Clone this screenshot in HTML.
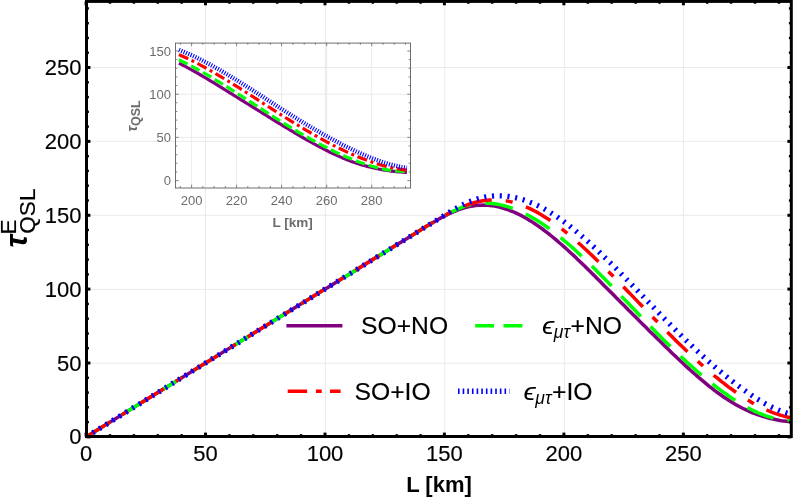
<!DOCTYPE html>
<html><head><meta charset="utf-8"><title>plot</title>
<style>
html,body{margin:0;padding:0;background:#fff;}
body{width:793px;height:498px;overflow:hidden;}
svg{display:block;will-change:transform;}
text{font-family:"Liberation Sans",sans-serif;}
</style></head><body>
<svg width="793" height="498" viewBox="0 0 793 498">
<rect x="0" y="0" width="793" height="498" fill="#ffffff"/>
<defs><clipPath id="cp"><rect x="86.5" y="1.4" width="704.8" height="435.1"/></clipPath>
<clipPath id="ci"><rect x="175.5" y="42.9" width="235" height="145"/></clipPath></defs>

<g stroke="#eaeaea" stroke-width="1" fill="none">
<line x1="205.5" y1="2" x2="205.5" y2="436"/>
<line x1="325.4" y1="2" x2="325.4" y2="436"/>
<line x1="444.8" y1="2" x2="444.8" y2="436"/>
<line x1="564.3" y1="2" x2="564.3" y2="436"/>
<line x1="683.4" y1="2" x2="683.4" y2="436"/>
<line x1="87" y1="67.5" x2="791" y2="67.5"/>
<line x1="87" y1="141.4" x2="791" y2="141.4"/>
<line x1="87" y1="215.3" x2="791" y2="215.3"/>
<line x1="87" y1="289.4" x2="791" y2="289.4"/>
<line x1="87" y1="363.2" x2="791" y2="363.2"/>
</g>
<g clip-path="url(#cp)" fill="none" stroke-linecap="butt" stroke-linejoin="round">
<path d="M86.1 436.9 L325.0 289.1 L327.4 287.7 L329.8 286.2 L332.2 284.7 L334.6 283.2 L336.9 281.8 L339.3 280.3 L341.7 278.8 L344.1 277.3 L346.5 275.9 L348.9 274.4 L351.3 272.9 L353.7 271.4 L356.1 269.9 L358.4 268.5 L360.8 267.0 L363.2 265.5 L365.6 264.0 L368.0 262.6 L370.4 261.1 L372.8 259.6 L375.2 258.1 L377.6 256.6 L379.9 255.2 L382.3 253.7 L384.7 252.2 L387.1 250.7 L389.5 249.3 L391.9 247.8 L394.3 246.3 L396.7 244.8 L399.1 243.3 L401.4 241.9 L403.8 240.4 L406.2 238.9 L408.6 237.4 L411.0 236.0 L413.4 234.5 L415.8 233.0 L418.2 231.5 L420.6 230.0 L422.9 228.6 L425.3 227.1 L427.7 225.6 L430.1 224.2 L432.5 222.8 L434.9 221.4 L437.3 220.0 L439.7 218.6 L442.1 217.3 L444.4 216.1 L446.8 214.9 L449.2 213.7 L451.6 212.6 L454.0 211.6 L456.4 210.6 L458.8 209.7 L461.2 208.8 L463.6 208.1 L466.0 207.4 L468.3 206.8 L470.7 206.3 L473.1 205.9 L475.5 205.6 L477.9 205.3 L480.3 205.2 L482.7 205.1 L485.1 205.2 L487.5 205.3 L489.8 205.5 L492.2 205.8 L494.6 206.1 L497.0 206.6 L499.4 207.1 L501.8 207.8 L504.2 208.5 L506.6 209.2 L509.0 210.1 L511.3 211.0 L513.7 212.0 L516.1 213.1 L518.5 214.2 L520.9 215.4 L523.3 216.7 L525.7 218.1 L528.1 219.5 L530.5 220.9 L532.8 222.4 L535.2 224.0 L537.6 225.6 L540.0 227.3 L542.4 229.0 L544.8 230.8 L547.2 232.7 L549.6 234.5 L552.0 236.5 L554.3 238.4 L556.7 240.4 L559.1 242.5 L561.5 244.5 L563.9 246.6 L566.3 248.8 L568.7 251.0 L571.1 253.2 L573.5 255.4 L575.8 257.6 L578.2 259.9 L580.6 262.2 L583.0 264.5 L585.4 266.8 L587.8 269.2 L590.2 271.5 L592.6 273.9 L595.0 276.3 L597.3 278.7 L599.7 281.1 L602.1 283.5 L604.5 285.9 L606.9 288.3 L609.3 290.7 L611.7 293.1 L614.1 295.5 L616.5 297.9 L618.8 300.3 L621.2 302.7 L623.6 305.1 L626.0 307.5 L628.4 309.9 L630.8 312.3 L633.2 314.7 L635.6 317.1 L638.0 319.5 L640.3 321.9 L642.7 324.3 L645.1 326.6 L647.5 329.0 L649.9 331.4 L652.3 333.7 L654.7 336.1 L657.1 338.5 L659.5 340.8 L661.8 343.1 L664.2 345.5 L666.6 347.8 L669.0 350.1 L671.4 352.4 L673.8 354.7 L676.2 356.9 L678.6 359.2 L681.0 361.5 L683.4 363.7 L685.7 365.9 L688.1 368.1 L690.5 370.3 L692.9 372.4 L695.3 374.5 L697.7 376.6 L700.1 378.7 L702.5 380.7 L704.9 382.7 L707.2 384.6 L709.6 386.6 L712.0 388.4 L714.4 390.3 L716.8 392.1 L719.2 393.8 L721.6 395.5 L724.0 397.2 L726.4 398.8 L728.7 400.3 L731.1 401.8 L733.5 403.3 L735.9 404.7 L738.3 406.0 L740.7 407.3 L743.1 408.5 L745.5 409.6 L747.9 410.7 L750.2 411.8 L752.6 412.8 L755.0 413.7 L757.4 414.6 L759.8 415.4 L762.2 416.2 L764.6 416.9 L767.0 417.6 L769.4 418.2 L771.7 418.8 L774.1 419.3 L776.5 419.8 L778.9 420.3 L781.3 420.7 L783.7 421.0 L786.1 421.3 L788.5 421.6 L790.9 421.9" stroke="#800080" stroke-width="3.5"/>
<path d="M86.1 436.9 L325.0 289.1 L327.4 287.7 L329.8 286.2 L332.2 284.7 L334.6 283.2 L336.9 281.8 L339.3 280.3 L341.7 278.8 L344.1 277.3 L346.5 275.9 L348.9 274.4 L351.3 272.9 L353.7 271.4 L356.1 269.9 L358.4 268.5 L360.8 267.0 L363.2 265.5 L365.6 264.0 L368.0 262.6 L370.4 261.1 L372.8 259.6 L375.2 258.1 L377.6 256.6 L379.9 255.2 L382.3 253.7 L384.7 252.2 L387.1 250.7 L389.5 249.3 L391.9 247.8 L394.3 246.3 L396.7 244.8 L399.1 243.3 L401.4 241.9 L403.8 240.4 L406.2 238.9 L408.6 237.4 L411.0 236.0 L413.4 234.5 L415.8 233.0 L418.2 231.5 L420.6 230.0 L422.9 228.6 L425.3 227.1 L427.7 225.6 L430.1 224.2 L432.5 222.7 L434.9 221.3 L437.3 219.9 L439.7 218.5 L442.1 217.1 L444.4 215.7 L446.8 214.4 L449.2 213.2 L451.6 211.9 L454.0 210.8 L456.4 209.7 L458.8 208.6 L461.2 207.6 L463.6 206.7 L466.0 205.9 L468.3 205.2 L470.7 204.6 L473.1 204.1 L475.5 203.7 L477.9 203.4 L480.3 203.2 L482.7 203.1 L485.1 203.1 L487.5 203.2 L489.8 203.3 L492.2 203.5 L494.6 203.8 L497.0 204.2 L499.4 204.6 L501.8 205.1 L504.2 205.7 L506.6 206.4 L509.0 207.1 L511.3 207.9 L513.7 208.8 L516.1 209.7 L518.5 210.7 L520.9 211.7 L523.3 212.8 L525.7 214.0 L528.1 215.2 L530.5 216.5 L532.8 217.9 L535.2 219.3 L537.6 220.8 L540.0 222.3 L542.4 223.9 L544.8 225.5 L547.2 227.2 L549.6 228.9 L552.0 230.7 L554.3 232.5 L556.7 234.4 L559.1 236.3 L561.5 238.3 L563.9 240.3 L566.3 242.3 L568.7 244.4 L571.1 246.5 L573.5 248.6 L575.8 250.8 L578.2 253.0 L580.6 255.3 L583.0 257.5 L585.4 259.8 L587.8 262.1 L590.2 264.4 L592.6 266.8 L595.0 269.2 L597.3 271.6 L599.7 274.0 L602.1 276.4 L604.5 278.8 L606.9 281.2 L609.3 283.7 L611.7 286.2 L614.1 288.6 L616.5 291.1 L618.8 293.6 L621.2 296.1 L623.6 298.6 L626.0 301.0 L628.4 303.5 L630.8 306.0 L633.2 308.5 L635.6 311.0 L638.0 313.5 L640.3 316.0 L642.7 318.5 L645.1 321.0 L647.5 323.4 L649.9 325.9 L652.3 328.3 L654.7 330.8 L657.1 333.2 L659.5 335.6 L661.8 338.0 L664.2 340.4 L666.6 342.8 L669.0 345.1 L671.4 347.5 L673.8 349.8 L676.2 352.1 L678.6 354.4 L681.0 356.6 L683.4 358.8 L685.7 361.0 L688.1 363.2 L690.5 365.4 L692.9 367.5 L695.3 369.6 L697.7 371.7 L700.1 373.8 L702.5 375.8 L704.9 377.8 L707.2 379.8 L709.6 381.7 L712.0 383.6 L714.4 385.5 L716.8 387.3 L719.2 389.1 L721.6 390.9 L724.0 392.6 L726.4 394.3 L728.7 396.0 L731.1 397.6 L733.5 399.2 L735.9 400.7 L738.3 402.2 L740.7 403.7 L743.1 405.1 L745.5 406.4 L747.9 407.7 L750.2 409.0 L752.6 410.2 L755.0 411.4 L757.4 412.5 L759.8 413.5 L762.2 414.4 L764.6 415.3 L767.0 416.2 L769.4 416.9 L771.7 417.6 L774.1 418.2 L776.5 418.7 L778.9 419.2 L781.3 419.6 L783.7 419.8 L786.1 420.0 L788.5 420.1 L790.9 420.1" stroke="#00ff00" stroke-width="3.5" stroke-dasharray="28.15 14.07"/>
<path d="M86.1 436.9 L325.0 289.1 L327.4 287.7 L329.8 286.2 L332.2 284.7 L334.6 283.2 L336.9 281.8 L339.3 280.3 L341.7 278.8 L344.1 277.3 L346.5 275.9 L348.9 274.4 L351.3 272.9 L353.7 271.4 L356.1 269.9 L358.4 268.5 L360.8 267.0 L363.2 265.5 L365.6 264.0 L368.0 262.6 L370.4 261.1 L372.8 259.6 L375.2 258.1 L377.6 256.6 L379.9 255.2 L382.3 253.7 L384.7 252.2 L387.1 250.7 L389.5 249.3 L391.9 247.8 L394.3 246.3 L396.7 244.8 L399.1 243.3 L401.4 241.9 L403.8 240.4 L406.2 238.9 L408.6 237.4 L411.0 236.0 L413.4 234.5 L415.8 233.0 L418.2 231.5 L420.6 230.0 L422.9 228.6 L425.3 227.1 L427.7 225.6 L430.1 224.2 L432.5 222.7 L434.9 221.3 L437.3 219.9 L439.7 218.5 L442.1 217.1 L444.4 215.8 L446.8 214.4 L449.2 213.1 L451.6 211.9 L454.0 210.7 L456.4 209.5 L458.8 208.4 L461.2 207.4 L463.6 206.3 L466.0 205.4 L468.3 204.5 L470.7 203.7 L473.1 203.0 L475.5 202.3 L477.9 201.8 L480.3 201.3 L482.7 200.8 L485.1 200.5 L487.5 200.2 L489.8 200.0 L492.2 199.9 L494.6 199.8 L497.0 199.9 L499.4 200.0 L501.8 200.3 L504.2 200.6 L506.6 200.9 L509.0 201.4 L511.3 201.9 L513.7 202.6 L516.1 203.3 L518.5 204.0 L520.9 204.9 L523.3 205.8 L525.7 206.7 L528.1 207.8 L530.5 208.9 L532.8 210.1 L535.2 211.3 L537.6 212.6 L540.0 214.0 L542.4 215.4 L544.8 216.9 L547.2 218.4 L549.6 220.0 L552.0 221.6 L554.3 223.3 L556.7 225.1 L559.1 226.9 L561.5 228.7 L563.9 230.6 L566.3 232.5 L568.7 234.5 L571.1 236.5 L573.5 238.5 L575.8 240.6 L578.2 242.7 L580.6 244.8 L583.0 247.0 L585.4 249.2 L587.8 251.4 L590.2 253.7 L592.6 255.9 L595.0 258.2 L597.3 260.6 L599.7 262.9 L602.1 265.2 L604.5 267.6 L606.9 270.0 L609.3 272.4 L611.7 274.8 L614.1 277.2 L616.5 279.7 L618.8 282.1 L621.2 284.6 L623.6 287.0 L626.0 289.5 L628.4 291.9 L630.8 294.4 L633.2 296.9 L635.6 299.4 L638.0 301.9 L640.3 304.3 L642.7 306.8 L645.1 309.3 L647.5 311.8 L649.9 314.2 L652.3 316.7 L654.7 319.2 L657.1 321.6 L659.5 324.1 L661.8 326.5 L664.2 328.9 L666.6 331.3 L669.0 333.7 L671.4 336.1 L673.8 338.5 L676.2 340.9 L678.6 343.2 L681.0 345.5 L683.4 347.8 L685.7 350.1 L688.1 352.4 L690.5 354.6 L692.9 356.9 L695.3 359.1 L697.7 361.2 L700.1 363.4 L702.5 365.5 L704.9 367.6 L707.2 369.7 L709.6 371.8 L712.0 373.8 L714.4 375.8 L716.8 377.7 L719.2 379.7 L721.6 381.6 L724.0 383.4 L726.4 385.3 L728.7 387.1 L731.1 388.8 L733.5 390.5 L735.9 392.2 L738.3 393.9 L740.7 395.5 L743.1 397.1 L745.5 398.6 L747.9 400.1 L750.2 401.5 L752.6 402.9 L755.0 404.3 L757.4 405.6 L759.8 406.8 L762.2 408.0 L764.6 409.1 L767.0 410.2 L769.4 411.2 L771.7 412.2 L774.1 413.1 L776.5 413.9 L778.9 414.7 L781.3 415.4 L783.7 416.1 L786.1 416.7 L788.5 417.2 L790.9 417.6" stroke="#ff0000" stroke-width="3.5" stroke-dasharray="28.15 14.07 7.04 14.07"/>
<path d="M86.1 436.9 L325.0 289.1 L327.4 287.7 L329.8 286.2 L332.2 284.7 L334.6 283.2 L336.9 281.8 L339.3 280.3 L341.7 278.8 L344.1 277.3 L346.5 275.9 L348.9 274.4 L351.3 272.9 L353.7 271.4 L356.1 269.9 L358.4 268.5 L360.8 267.0 L363.2 265.5 L365.6 264.0 L368.0 262.6 L370.4 261.1 L372.8 259.6 L375.2 258.1 L377.6 256.6 L379.9 255.2 L382.3 253.7 L384.7 252.2 L387.1 250.7 L389.5 249.3 L391.9 247.8 L394.3 246.3 L396.7 244.8 L399.1 243.3 L401.4 241.9 L403.8 240.4 L406.2 238.9 L408.6 237.4 L411.0 236.0 L413.4 234.5 L415.8 233.0 L418.2 231.5 L420.6 230.0 L422.9 228.6 L425.3 227.1 L427.7 225.7 L430.1 224.2 L432.5 222.7 L434.9 221.2 L437.3 219.8 L439.7 218.3 L442.1 216.8 L444.4 215.4 L446.8 213.9 L449.2 212.4 L451.6 211.0 L454.0 209.6 L456.4 208.2 L458.8 206.9 L461.2 205.6 L463.6 204.4 L466.0 203.2 L468.3 202.2 L470.7 201.2 L473.1 200.3 L475.5 199.5 L477.9 198.7 L480.3 198.1 L482.7 197.5 L485.1 197.0 L487.5 196.6 L489.8 196.3 L492.2 196.1 L494.6 195.9 L497.0 195.8 L499.4 195.8 L501.8 195.9 L504.2 196.0 L506.6 196.2 L509.0 196.5 L511.3 196.9 L513.7 197.3 L516.1 197.8 L518.5 198.4 L520.9 199.1 L523.3 199.8 L525.7 200.6 L528.1 201.4 L530.5 202.4 L532.8 203.3 L535.2 204.4 L537.6 205.5 L540.0 206.7 L542.4 207.9 L544.8 209.2 L547.2 210.6 L549.6 212.0 L552.0 213.5 L554.3 215.0 L556.7 216.6 L559.1 218.3 L561.5 220.0 L563.9 221.7 L566.3 223.5 L568.7 225.3 L571.1 227.2 L573.5 229.1 L575.8 231.1 L578.2 233.1 L580.6 235.1 L583.0 237.2 L585.4 239.3 L587.8 241.4 L590.2 243.6 L592.6 245.8 L595.0 248.0 L597.3 250.3 L599.7 252.5 L602.1 254.8 L604.5 257.2 L606.9 259.5 L609.3 261.9 L611.7 264.2 L614.1 266.6 L616.5 269.0 L618.8 271.4 L621.2 273.9 L623.6 276.3 L626.0 278.8 L628.4 281.2 L630.8 283.7 L633.2 286.2 L635.6 288.7 L638.0 291.2 L640.3 293.7 L642.7 296.1 L645.1 298.6 L647.5 301.1 L649.9 303.6 L652.3 306.1 L654.7 308.6 L657.1 311.1 L659.5 313.6 L661.8 316.0 L664.2 318.5 L666.6 320.9 L669.0 323.4 L671.4 325.8 L673.8 328.2 L676.2 330.6 L678.6 333.0 L681.0 335.3 L683.4 337.7 L685.7 340.0 L688.1 342.3 L690.5 344.6 L692.9 346.9 L695.3 349.2 L697.7 351.4 L700.1 353.6 L702.5 355.8 L704.9 358.0 L707.2 360.2 L709.6 362.3 L712.0 364.4 L714.4 366.5 L716.8 368.6 L719.2 370.6 L721.6 372.6 L724.0 374.6 L726.4 376.5 L728.7 378.5 L731.1 380.4 L733.5 382.2 L735.9 384.1 L738.3 385.9 L740.7 387.7 L743.1 389.4 L745.5 391.1 L747.9 392.8 L750.2 394.4 L752.6 396.0 L755.0 397.6 L757.4 399.1 L759.8 400.5 L762.2 401.9 L764.6 403.3 L767.0 404.6 L769.4 405.8 L771.7 407.0 L774.1 408.1 L776.5 409.2 L778.9 410.2 L781.3 411.1 L783.7 412.0 L786.1 412.8 L788.5 413.5 L790.9 414.2" stroke="#0000ff" stroke-width="5.3" stroke-dasharray="2.1 5.656"/>
</g>
<rect x="86.5" y="1.4" width="704.8" height="435.1" fill="none" stroke="#000" stroke-width="3"/>
<g stroke="#000" fill="none">
<line x1="86.1" y1="436.5" x2="86.1" y2="432.6" stroke-width="3"/>
<line x1="86.1" y1="1.4" x2="86.1" y2="5.3" stroke-width="3"/>
<line x1="110.0" y1="436.5" x2="110.0" y2="434.1" stroke-width="2.4"/>
<line x1="110.0" y1="1.4" x2="110.0" y2="3.8" stroke-width="2.4"/>
<line x1="133.9" y1="436.5" x2="133.9" y2="434.1" stroke-width="2.4"/>
<line x1="133.9" y1="1.4" x2="133.9" y2="3.8" stroke-width="2.4"/>
<line x1="157.8" y1="436.5" x2="157.8" y2="434.1" stroke-width="2.4"/>
<line x1="157.8" y1="1.4" x2="157.8" y2="3.8" stroke-width="2.4"/>
<line x1="181.7" y1="436.5" x2="181.7" y2="434.1" stroke-width="2.4"/>
<line x1="181.7" y1="1.4" x2="181.7" y2="3.8" stroke-width="2.4"/>
<line x1="205.5" y1="436.5" x2="205.5" y2="432.6" stroke-width="3"/>
<line x1="205.5" y1="1.4" x2="205.5" y2="5.3" stroke-width="3"/>
<line x1="229.4" y1="436.5" x2="229.4" y2="434.1" stroke-width="2.4"/>
<line x1="229.4" y1="1.4" x2="229.4" y2="3.8" stroke-width="2.4"/>
<line x1="253.3" y1="436.5" x2="253.3" y2="434.1" stroke-width="2.4"/>
<line x1="253.3" y1="1.4" x2="253.3" y2="3.8" stroke-width="2.4"/>
<line x1="277.2" y1="436.5" x2="277.2" y2="434.1" stroke-width="2.4"/>
<line x1="277.2" y1="1.4" x2="277.2" y2="3.8" stroke-width="2.4"/>
<line x1="301.1" y1="436.5" x2="301.1" y2="434.1" stroke-width="2.4"/>
<line x1="301.1" y1="1.4" x2="301.1" y2="3.8" stroke-width="2.4"/>
<line x1="325.0" y1="436.5" x2="325.0" y2="432.6" stroke-width="3"/>
<line x1="325.0" y1="1.4" x2="325.0" y2="5.3" stroke-width="3"/>
<line x1="348.9" y1="436.5" x2="348.9" y2="434.1" stroke-width="2.4"/>
<line x1="348.9" y1="1.4" x2="348.9" y2="3.8" stroke-width="2.4"/>
<line x1="372.8" y1="436.5" x2="372.8" y2="434.1" stroke-width="2.4"/>
<line x1="372.8" y1="1.4" x2="372.8" y2="3.8" stroke-width="2.4"/>
<line x1="396.7" y1="436.5" x2="396.7" y2="434.1" stroke-width="2.4"/>
<line x1="396.7" y1="1.4" x2="396.7" y2="3.8" stroke-width="2.4"/>
<line x1="420.6" y1="436.5" x2="420.6" y2="434.1" stroke-width="2.4"/>
<line x1="420.6" y1="1.4" x2="420.6" y2="3.8" stroke-width="2.4"/>
<line x1="444.4" y1="436.5" x2="444.4" y2="432.6" stroke-width="3"/>
<line x1="444.4" y1="1.4" x2="444.4" y2="5.3" stroke-width="3"/>
<line x1="468.3" y1="436.5" x2="468.3" y2="434.1" stroke-width="2.4"/>
<line x1="468.3" y1="1.4" x2="468.3" y2="3.8" stroke-width="2.4"/>
<line x1="492.2" y1="436.5" x2="492.2" y2="434.1" stroke-width="2.4"/>
<line x1="492.2" y1="1.4" x2="492.2" y2="3.8" stroke-width="2.4"/>
<line x1="516.1" y1="436.5" x2="516.1" y2="434.1" stroke-width="2.4"/>
<line x1="516.1" y1="1.4" x2="516.1" y2="3.8" stroke-width="2.4"/>
<line x1="540.0" y1="436.5" x2="540.0" y2="434.1" stroke-width="2.4"/>
<line x1="540.0" y1="1.4" x2="540.0" y2="3.8" stroke-width="2.4"/>
<line x1="563.9" y1="436.5" x2="563.9" y2="432.6" stroke-width="3"/>
<line x1="563.9" y1="1.4" x2="563.9" y2="5.3" stroke-width="3"/>
<line x1="587.8" y1="436.5" x2="587.8" y2="434.1" stroke-width="2.4"/>
<line x1="587.8" y1="1.4" x2="587.8" y2="3.8" stroke-width="2.4"/>
<line x1="611.7" y1="436.5" x2="611.7" y2="434.1" stroke-width="2.4"/>
<line x1="611.7" y1="1.4" x2="611.7" y2="3.8" stroke-width="2.4"/>
<line x1="635.6" y1="436.5" x2="635.6" y2="434.1" stroke-width="2.4"/>
<line x1="635.6" y1="1.4" x2="635.6" y2="3.8" stroke-width="2.4"/>
<line x1="659.5" y1="436.5" x2="659.5" y2="434.1" stroke-width="2.4"/>
<line x1="659.5" y1="1.4" x2="659.5" y2="3.8" stroke-width="2.4"/>
<line x1="683.4" y1="436.5" x2="683.4" y2="432.6" stroke-width="3"/>
<line x1="683.4" y1="1.4" x2="683.4" y2="5.3" stroke-width="3"/>
<line x1="707.2" y1="436.5" x2="707.2" y2="434.1" stroke-width="2.4"/>
<line x1="707.2" y1="1.4" x2="707.2" y2="3.8" stroke-width="2.4"/>
<line x1="731.1" y1="436.5" x2="731.1" y2="434.1" stroke-width="2.4"/>
<line x1="731.1" y1="1.4" x2="731.1" y2="3.8" stroke-width="2.4"/>
<line x1="755.0" y1="436.5" x2="755.0" y2="434.1" stroke-width="2.4"/>
<line x1="755.0" y1="1.4" x2="755.0" y2="3.8" stroke-width="2.4"/>
<line x1="778.9" y1="436.5" x2="778.9" y2="434.1" stroke-width="2.4"/>
<line x1="778.9" y1="1.4" x2="778.9" y2="3.8" stroke-width="2.4"/>
<line x1="86.5" y1="436.9" x2="90.4" y2="436.9" stroke-width="3"/>
<line x1="791.3" y1="436.9" x2="787.4" y2="436.9" stroke-width="3"/>
<line x1="86.5" y1="422.1" x2="88.9" y2="422.1" stroke-width="2.4"/>
<line x1="791.3" y1="422.1" x2="788.9" y2="422.1" stroke-width="2.4"/>
<line x1="86.5" y1="407.3" x2="88.9" y2="407.3" stroke-width="2.4"/>
<line x1="791.3" y1="407.3" x2="788.9" y2="407.3" stroke-width="2.4"/>
<line x1="86.5" y1="392.6" x2="88.9" y2="392.6" stroke-width="2.4"/>
<line x1="791.3" y1="392.6" x2="788.9" y2="392.6" stroke-width="2.4"/>
<line x1="86.5" y1="377.8" x2="88.9" y2="377.8" stroke-width="2.4"/>
<line x1="791.3" y1="377.8" x2="788.9" y2="377.8" stroke-width="2.4"/>
<line x1="86.5" y1="363.0" x2="90.4" y2="363.0" stroke-width="3"/>
<line x1="791.3" y1="363.0" x2="787.4" y2="363.0" stroke-width="3"/>
<line x1="86.5" y1="348.2" x2="88.9" y2="348.2" stroke-width="2.4"/>
<line x1="791.3" y1="348.2" x2="788.9" y2="348.2" stroke-width="2.4"/>
<line x1="86.5" y1="333.5" x2="88.9" y2="333.5" stroke-width="2.4"/>
<line x1="791.3" y1="333.5" x2="788.9" y2="333.5" stroke-width="2.4"/>
<line x1="86.5" y1="318.7" x2="88.9" y2="318.7" stroke-width="2.4"/>
<line x1="791.3" y1="318.7" x2="788.9" y2="318.7" stroke-width="2.4"/>
<line x1="86.5" y1="303.9" x2="88.9" y2="303.9" stroke-width="2.4"/>
<line x1="791.3" y1="303.9" x2="788.9" y2="303.9" stroke-width="2.4"/>
<line x1="86.5" y1="289.1" x2="90.4" y2="289.1" stroke-width="3"/>
<line x1="791.3" y1="289.1" x2="787.4" y2="289.1" stroke-width="3"/>
<line x1="86.5" y1="274.4" x2="88.9" y2="274.4" stroke-width="2.4"/>
<line x1="791.3" y1="274.4" x2="788.9" y2="274.4" stroke-width="2.4"/>
<line x1="86.5" y1="259.6" x2="88.9" y2="259.6" stroke-width="2.4"/>
<line x1="791.3" y1="259.6" x2="788.9" y2="259.6" stroke-width="2.4"/>
<line x1="86.5" y1="244.8" x2="88.9" y2="244.8" stroke-width="2.4"/>
<line x1="791.3" y1="244.8" x2="788.9" y2="244.8" stroke-width="2.4"/>
<line x1="86.5" y1="230.0" x2="88.9" y2="230.0" stroke-width="2.4"/>
<line x1="791.3" y1="230.0" x2="788.9" y2="230.0" stroke-width="2.4"/>
<line x1="86.5" y1="215.3" x2="90.4" y2="215.3" stroke-width="3"/>
<line x1="791.3" y1="215.3" x2="787.4" y2="215.3" stroke-width="3"/>
<line x1="86.5" y1="200.5" x2="88.9" y2="200.5" stroke-width="2.4"/>
<line x1="791.3" y1="200.5" x2="788.9" y2="200.5" stroke-width="2.4"/>
<line x1="86.5" y1="185.7" x2="88.9" y2="185.7" stroke-width="2.4"/>
<line x1="791.3" y1="185.7" x2="788.9" y2="185.7" stroke-width="2.4"/>
<line x1="86.5" y1="170.9" x2="88.9" y2="170.9" stroke-width="2.4"/>
<line x1="791.3" y1="170.9" x2="788.9" y2="170.9" stroke-width="2.4"/>
<line x1="86.5" y1="156.2" x2="88.9" y2="156.2" stroke-width="2.4"/>
<line x1="791.3" y1="156.2" x2="788.9" y2="156.2" stroke-width="2.4"/>
<line x1="86.5" y1="141.4" x2="90.4" y2="141.4" stroke-width="3"/>
<line x1="791.3" y1="141.4" x2="787.4" y2="141.4" stroke-width="3"/>
<line x1="86.5" y1="126.6" x2="88.9" y2="126.6" stroke-width="2.4"/>
<line x1="791.3" y1="126.6" x2="788.9" y2="126.6" stroke-width="2.4"/>
<line x1="86.5" y1="111.8" x2="88.9" y2="111.8" stroke-width="2.4"/>
<line x1="791.3" y1="111.8" x2="788.9" y2="111.8" stroke-width="2.4"/>
<line x1="86.5" y1="97.1" x2="88.9" y2="97.1" stroke-width="2.4"/>
<line x1="791.3" y1="97.1" x2="788.9" y2="97.1" stroke-width="2.4"/>
<line x1="86.5" y1="82.3" x2="88.9" y2="82.3" stroke-width="2.4"/>
<line x1="791.3" y1="82.3" x2="788.9" y2="82.3" stroke-width="2.4"/>
<line x1="86.5" y1="67.5" x2="90.4" y2="67.5" stroke-width="3"/>
<line x1="791.3" y1="67.5" x2="787.4" y2="67.5" stroke-width="3"/>
<line x1="86.5" y1="52.7" x2="88.9" y2="52.7" stroke-width="2.4"/>
<line x1="791.3" y1="52.7" x2="788.9" y2="52.7" stroke-width="2.4"/>
<line x1="86.5" y1="38.0" x2="88.9" y2="38.0" stroke-width="2.4"/>
<line x1="791.3" y1="38.0" x2="788.9" y2="38.0" stroke-width="2.4"/>
<line x1="86.5" y1="23.2" x2="88.9" y2="23.2" stroke-width="2.4"/>
<line x1="791.3" y1="23.2" x2="788.9" y2="23.2" stroke-width="2.4"/>
<line x1="86.5" y1="8.4" x2="88.9" y2="8.4" stroke-width="2.4"/>
<line x1="791.3" y1="8.4" x2="788.9" y2="8.4" stroke-width="2.4"/>
</g>
<g font-size="22" fill="#000" stroke="#000" stroke-width="0.15">
<text transform="translate(86.1,461) scale(1,1.03)" text-anchor="middle">0</text>
<text transform="translate(205.5,461) scale(1,1.03)" text-anchor="middle">50</text>
<text transform="translate(325.0,461) scale(1,1.03)" text-anchor="middle">100</text>
<text transform="translate(444.4,461) scale(1,1.03)" text-anchor="middle">150</text>
<text transform="translate(563.9,461) scale(1,1.03)" text-anchor="middle">200</text>
<text transform="translate(683.4,461) scale(1,1.03)" text-anchor="middle">250</text>
<text transform="translate(81.5,443.8) scale(1,1.03)" text-anchor="end">0</text>
<text transform="translate(81.5,370.9) scale(1,1.03)" text-anchor="end">50</text>
<text transform="translate(81.5,297.0) scale(1,1.03)" text-anchor="end">100</text>
<text transform="translate(81.5,223.2) scale(1,1.03)" text-anchor="end">150</text>
<text transform="translate(81.5,149.3) scale(1,1.03)" text-anchor="end">200</text>
<text transform="translate(81.5,75.4) scale(1,1.03)" text-anchor="end">250</text>
</g>
<text x="439" y="492" text-anchor="middle" font-size="22" font-weight="bold">L [km]</text>
<g transform="translate(26.8,247.6) rotate(-90)">
<text x="0" y="0" font-size="31" font-weight="bold" font-style="italic">τ</text>
<text x="13.1" y="-10.5" font-size="22.5" stroke="#000" stroke-width="0.15">E</text>
<text x="13.9" y="8.6" font-size="22.6" stroke="#000" stroke-width="0.15">QSL</text>
</g>
<g stroke="#eaeaea" stroke-width="1" fill="none">
<line x1="191.6" y1="43" x2="191.6" y2="188"/>
<line x1="236.6" y1="43" x2="236.6" y2="188"/>
<line x1="281.6" y1="43" x2="281.6" y2="188"/>
<line x1="326.7" y1="43" x2="326.7" y2="188"/>
<line x1="371.7" y1="43" x2="371.7" y2="188"/>
<line x1="175.5" y1="137.4" x2="410.5" y2="137.4"/>
<line x1="175.5" y1="94.2" x2="410.5" y2="94.2"/>
</g>
<g clip-path="url(#ci)" fill="none" stroke-linecap="butt" stroke-linejoin="round">
<path d="M178.9 63.2 L180.3 63.9 L182.5 65.0 L184.8 66.2 L187.0 67.4 L189.3 68.6 L191.6 69.8 L193.8 71.1 L196.1 72.4 L198.3 73.7 L200.6 75.0 L202.8 76.3 L205.1 77.6 L207.3 78.9 L209.6 80.3 L211.8 81.7 L214.1 83.0 L216.3 84.4 L218.6 85.8 L220.8 87.2 L223.1 88.6 L225.3 90.0 L227.6 91.4 L229.8 92.8 L232.1 94.2 L234.3 95.6 L236.6 97.0 L238.8 98.4 L241.1 99.8 L243.3 101.2 L245.6 102.6 L247.8 104.0 L250.1 105.4 L252.4 106.8 L254.6 108.2 L256.9 109.6 L259.1 111.0 L261.4 112.4 L263.6 113.8 L265.9 115.2 L268.1 116.6 L270.4 118.0 L272.6 119.4 L274.9 120.8 L277.1 122.2 L279.4 123.5 L281.6 124.9 L283.9 126.3 L286.1 127.6 L288.4 129.0 L290.6 130.3 L292.9 131.7 L295.1 133.0 L297.4 134.3 L299.6 135.7 L301.9 137.0 L304.2 138.3 L306.4 139.6 L308.7 140.9 L310.9 142.1 L313.2 143.4 L315.4 144.6 L317.7 145.8 L319.9 147.0 L322.2 148.2 L324.4 149.4 L326.7 150.5 L328.9 151.7 L331.2 152.8 L333.4 153.8 L335.7 154.9 L337.9 155.9 L340.2 156.9 L342.4 157.9 L344.7 158.8 L346.9 159.7 L349.2 160.6 L351.4 161.4 L353.7 162.3 L355.9 163.0 L358.2 163.8 L360.4 164.5 L362.7 165.2 L365.0 165.8 L367.2 166.4 L369.5 167.0 L371.7 167.5 L374.0 168.0 L376.2 168.5 L378.5 169.0 L380.7 169.4 L383.0 169.8 L385.2 170.2 L387.5 170.5 L389.7 170.8 L392.0 171.1 L394.2 171.4 L396.5 171.6 L398.7 171.8 L401.0 172.0 L403.2 172.2 L405.5 172.3 L406.9 172.4" stroke="#800080" stroke-width="3.2"/>
<path d="M178.9 59.8 L180.3 60.5 L182.5 61.6 L184.8 62.7 L187.0 63.8 L189.3 64.9 L191.6 66.1 L193.8 67.3 L196.1 68.5 L198.3 69.8 L200.6 71.0 L202.8 72.3 L205.1 73.6 L207.3 74.9 L209.6 76.2 L211.8 77.5 L214.1 78.9 L216.3 80.3 L218.6 81.6 L220.8 83.0 L223.1 84.4 L225.3 85.8 L227.6 87.2 L229.8 88.6 L232.1 90.1 L234.3 91.5 L236.6 92.9 L238.8 94.4 L241.1 95.8 L243.3 97.3 L245.6 98.7 L247.8 100.2 L250.1 101.7 L252.4 103.1 L254.6 104.6 L256.9 106.0 L259.1 107.5 L261.4 108.9 L263.6 110.4 L265.9 111.8 L268.1 113.3 L270.4 114.7 L272.6 116.2 L274.9 117.6 L277.1 119.0 L279.4 120.5 L281.6 121.9 L283.9 123.3 L286.1 124.7 L288.4 126.1 L290.6 127.4 L292.9 128.8 L295.1 130.2 L297.4 131.5 L299.6 132.8 L301.9 134.1 L304.2 135.5 L306.4 136.7 L308.7 138.0 L310.9 139.3 L313.2 140.5 L315.4 141.8 L317.7 143.0 L319.9 144.2 L322.2 145.4 L324.4 146.5 L326.7 147.7 L328.9 148.8 L331.2 149.9 L333.4 151.0 L335.7 152.1 L337.9 153.2 L340.2 154.2 L342.4 155.2 L344.7 156.2 L346.9 157.2 L349.2 158.1 L351.4 159.0 L353.7 159.9 L355.9 160.8 L358.2 161.7 L360.4 162.5 L362.7 163.3 L365.0 164.1 L367.2 164.8 L369.5 165.5 L371.7 166.2 L374.0 166.8 L376.2 167.4 L378.5 168.0 L380.7 168.5 L383.0 169.0 L385.2 169.4 L387.5 169.8 L389.7 170.2 L392.0 170.5 L394.2 170.7 L396.5 171.0 L398.7 171.1 L401.0 171.2 L403.2 171.3 L405.5 171.3 L406.9 171.3" stroke="#00ff00" stroke-width="3.2" stroke-dasharray="9.6 4"/>
<path d="M178.9 54.6 L180.3 55.2 L182.5 56.2 L184.8 57.2 L187.0 58.3 L189.3 59.4 L191.6 60.4 L193.8 61.6 L196.1 62.7 L198.3 63.9 L200.6 65.1 L202.8 66.3 L205.1 67.5 L207.3 68.8 L209.6 70.0 L211.8 71.3 L214.1 72.6 L216.3 74.0 L218.6 75.3 L220.8 76.6 L223.1 78.0 L225.3 79.3 L227.6 80.7 L229.8 82.1 L232.1 83.5 L234.3 84.9 L236.6 86.3 L238.8 87.7 L241.1 89.2 L243.3 90.6 L245.6 92.0 L247.8 93.4 L250.1 94.9 L252.4 96.3 L254.6 97.8 L256.9 99.2 L259.1 100.7 L261.4 102.1 L263.6 103.6 L265.9 105.0 L268.1 106.5 L270.4 107.9 L272.6 109.4 L274.9 110.8 L277.1 112.3 L279.4 113.7 L281.6 115.1 L283.9 116.5 L286.1 118.0 L288.4 119.4 L290.6 120.8 L292.9 122.2 L295.1 123.6 L297.4 124.9 L299.6 126.3 L301.9 127.7 L304.2 129.0 L306.4 130.4 L308.7 131.7 L310.9 133.0 L313.2 134.3 L315.4 135.6 L317.7 136.9 L319.9 138.1 L322.2 139.4 L324.4 140.6 L326.7 141.8 L328.9 143.0 L331.2 144.2 L333.4 145.4 L335.7 146.5 L337.9 147.6 L340.2 148.7 L342.4 149.8 L344.7 150.9 L346.9 152.0 L349.2 153.0 L351.4 154.0 L353.7 155.0 L355.9 156.0 L358.2 156.9 L360.4 157.8 L362.7 158.7 L365.0 159.6 L367.2 160.4 L369.5 161.2 L371.7 162.0 L374.0 162.8 L376.2 163.5 L378.5 164.2 L380.7 164.9 L383.0 165.5 L385.2 166.1 L387.5 166.7 L389.7 167.2 L392.0 167.7 L394.2 168.1 L396.5 168.5 L398.7 168.9 L401.0 169.3 L403.2 169.6 L405.5 169.8 L406.9 170.0" stroke="#ff0000" stroke-width="3.2" stroke-dasharray="10.2 3.7 3 3.7"/>
<path d="M178.9 49.9 L180.3 50.5 L182.5 51.4 L184.8 52.3 L187.0 53.3 L189.3 54.2 L191.6 55.3 L193.8 56.3 L196.1 57.4 L198.3 58.5 L200.6 59.6 L202.8 60.7 L205.1 61.9 L207.3 63.1 L209.6 64.3 L211.8 65.5 L214.1 66.8 L216.3 68.1 L218.6 69.3 L220.8 70.6 L223.1 72.0 L225.3 73.3 L227.6 74.6 L229.8 76.0 L232.1 77.4 L234.3 78.7 L236.6 80.1 L238.8 81.5 L241.1 82.9 L243.3 84.3 L245.6 85.8 L247.8 87.2 L250.1 88.6 L252.4 90.1 L254.6 91.5 L256.9 93.0 L259.1 94.4 L261.4 95.9 L263.6 97.3 L265.9 98.8 L268.1 100.3 L270.4 101.7 L272.6 103.2 L274.9 104.6 L277.1 106.1 L279.4 107.5 L281.6 109.0 L283.9 110.4 L286.1 111.9 L288.4 113.3 L290.6 114.7 L292.9 116.1 L295.1 117.5 L297.4 118.9 L299.6 120.3 L301.9 121.7 L304.2 123.1 L306.4 124.5 L308.7 125.8 L310.9 127.2 L313.2 128.5 L315.4 129.8 L317.7 131.1 L319.9 132.4 L322.2 133.7 L324.4 135.0 L326.7 136.2 L328.9 137.5 L331.2 138.7 L333.4 139.9 L335.7 141.1 L337.9 142.3 L340.2 143.5 L342.4 144.7 L344.7 145.8 L346.9 146.9 L349.2 148.0 L351.4 149.1 L353.7 150.2 L355.9 151.3 L358.2 152.3 L360.4 153.3 L362.7 154.3 L365.0 155.3 L367.2 156.3 L369.5 157.2 L371.7 158.1 L374.0 159.0 L376.2 159.8 L378.5 160.6 L380.7 161.4 L383.0 162.2 L385.2 162.9 L387.5 163.6 L389.7 164.3 L392.0 164.9 L394.2 165.5 L396.5 166.0 L398.7 166.5 L401.0 167.0 L403.2 167.4 L405.5 167.8 L406.9 168.0" stroke="#0000ff" stroke-width="4.4" stroke-dasharray="1.1 1.45"/>
</g>
<rect x="175.5" y="43.1" width="235" height="144.9" fill="none" stroke="#6e6e6e" stroke-width="1"/>
<g stroke="#666" stroke-width="0.8" fill="none">
<line x1="180.3" y1="187.9" x2="180.3" y2="186.0"/>
<line x1="180.3" y1="42.9" x2="180.3" y2="44.8"/>
<line x1="191.6" y1="187.9" x2="191.6" y2="184.7"/>
<line x1="191.6" y1="42.9" x2="191.6" y2="46.1"/>
<line x1="202.8" y1="187.9" x2="202.8" y2="186.0"/>
<line x1="202.8" y1="42.9" x2="202.8" y2="44.8"/>
<line x1="214.1" y1="187.9" x2="214.1" y2="186.0"/>
<line x1="214.1" y1="42.9" x2="214.1" y2="44.8"/>
<line x1="225.3" y1="187.9" x2="225.3" y2="186.0"/>
<line x1="225.3" y1="42.9" x2="225.3" y2="44.8"/>
<line x1="236.6" y1="187.9" x2="236.6" y2="184.7"/>
<line x1="236.6" y1="42.9" x2="236.6" y2="46.1"/>
<line x1="247.8" y1="187.9" x2="247.8" y2="186.0"/>
<line x1="247.8" y1="42.9" x2="247.8" y2="44.8"/>
<line x1="259.1" y1="187.9" x2="259.1" y2="186.0"/>
<line x1="259.1" y1="42.9" x2="259.1" y2="44.8"/>
<line x1="270.4" y1="187.9" x2="270.4" y2="186.0"/>
<line x1="270.4" y1="42.9" x2="270.4" y2="44.8"/>
<line x1="281.6" y1="187.9" x2="281.6" y2="184.7"/>
<line x1="281.6" y1="42.9" x2="281.6" y2="46.1"/>
<line x1="292.9" y1="187.9" x2="292.9" y2="186.0"/>
<line x1="292.9" y1="42.9" x2="292.9" y2="44.8"/>
<line x1="304.2" y1="187.9" x2="304.2" y2="186.0"/>
<line x1="304.2" y1="42.9" x2="304.2" y2="44.8"/>
<line x1="315.4" y1="187.9" x2="315.4" y2="186.0"/>
<line x1="315.4" y1="42.9" x2="315.4" y2="44.8"/>
<line x1="326.7" y1="187.9" x2="326.7" y2="184.7"/>
<line x1="326.7" y1="42.9" x2="326.7" y2="46.1"/>
<line x1="337.9" y1="187.9" x2="337.9" y2="186.0"/>
<line x1="337.9" y1="42.9" x2="337.9" y2="44.8"/>
<line x1="349.2" y1="187.9" x2="349.2" y2="186.0"/>
<line x1="349.2" y1="42.9" x2="349.2" y2="44.8"/>
<line x1="360.4" y1="187.9" x2="360.4" y2="186.0"/>
<line x1="360.4" y1="42.9" x2="360.4" y2="44.8"/>
<line x1="371.7" y1="187.9" x2="371.7" y2="184.7"/>
<line x1="371.7" y1="42.9" x2="371.7" y2="46.1"/>
<line x1="383.0" y1="187.9" x2="383.0" y2="186.0"/>
<line x1="383.0" y1="42.9" x2="383.0" y2="44.8"/>
<line x1="394.2" y1="187.9" x2="394.2" y2="186.0"/>
<line x1="394.2" y1="42.9" x2="394.2" y2="44.8"/>
<line x1="405.5" y1="187.9" x2="405.5" y2="186.0"/>
<line x1="405.5" y1="42.9" x2="405.5" y2="44.8"/>
<line x1="175.5" y1="180.6" x2="178.7" y2="180.6"/>
<line x1="410.5" y1="180.6" x2="407.3" y2="180.6"/>
<line x1="175.5" y1="172.0" x2="177.4" y2="172.0"/>
<line x1="410.5" y1="172.0" x2="408.6" y2="172.0"/>
<line x1="175.5" y1="163.3" x2="177.4" y2="163.3"/>
<line x1="410.5" y1="163.3" x2="408.6" y2="163.3"/>
<line x1="175.5" y1="154.7" x2="177.4" y2="154.7"/>
<line x1="410.5" y1="154.7" x2="408.6" y2="154.7"/>
<line x1="175.5" y1="146.0" x2="177.4" y2="146.0"/>
<line x1="410.5" y1="146.0" x2="408.6" y2="146.0"/>
<line x1="175.5" y1="137.4" x2="178.7" y2="137.4"/>
<line x1="410.5" y1="137.4" x2="407.3" y2="137.4"/>
<line x1="175.5" y1="128.8" x2="177.4" y2="128.8"/>
<line x1="410.5" y1="128.8" x2="408.6" y2="128.8"/>
<line x1="175.5" y1="120.1" x2="177.4" y2="120.1"/>
<line x1="410.5" y1="120.1" x2="408.6" y2="120.1"/>
<line x1="175.5" y1="111.5" x2="177.4" y2="111.5"/>
<line x1="410.5" y1="111.5" x2="408.6" y2="111.5"/>
<line x1="175.5" y1="102.8" x2="177.4" y2="102.8"/>
<line x1="410.5" y1="102.8" x2="408.6" y2="102.8"/>
<line x1="175.5" y1="94.2" x2="178.7" y2="94.2"/>
<line x1="410.5" y1="94.2" x2="407.3" y2="94.2"/>
<line x1="175.5" y1="85.6" x2="177.4" y2="85.6"/>
<line x1="410.5" y1="85.6" x2="408.6" y2="85.6"/>
<line x1="175.5" y1="76.9" x2="177.4" y2="76.9"/>
<line x1="410.5" y1="76.9" x2="408.6" y2="76.9"/>
<line x1="175.5" y1="68.3" x2="177.4" y2="68.3"/>
<line x1="410.5" y1="68.3" x2="408.6" y2="68.3"/>
<line x1="175.5" y1="59.6" x2="177.4" y2="59.6"/>
<line x1="410.5" y1="59.6" x2="408.6" y2="59.6"/>
<line x1="175.5" y1="51.0" x2="178.7" y2="51.0"/>
<line x1="410.5" y1="51.0" x2="407.3" y2="51.0"/>
</g>
<g font-size="13" fill="#6c6c6c">
<text x="191.6" y="205.2" text-anchor="middle">200</text>
<text x="236.6" y="205.2" text-anchor="middle">220</text>
<text x="281.6" y="205.2" text-anchor="middle">240</text>
<text x="326.7" y="205.2" text-anchor="middle">260</text>
<text x="371.7" y="205.2" text-anchor="middle">280</text>
<text x="171" y="185.2" text-anchor="end">0</text>
<text x="171" y="142.0" text-anchor="end">50</text>
<text x="171" y="98.8" text-anchor="end">100</text>
<text x="171" y="55.6" text-anchor="end">150</text>
<text x="272.4" y="227.2" font-size="13.5" font-weight="bold">L [km]</text>
<g transform="translate(136.8,131.8) rotate(-90)" font-weight="bold"><text x="0" y="0" font-size="14.5" font-style="italic">τ</text><text x="5.8" y="3" font-size="12.5">QSL</text></g>
</g>
<g fill="none">
<line x1="286.4" y1="325.7" x2="342.4" y2="325.7" stroke="#800080" stroke-width="3.5"/>
<line x1="475.2" y1="325.7" x2="522.4" y2="325.7" stroke="#00ff00" stroke-width="3.5" stroke-dasharray="18.9 9.4"/>
<line x1="287.7" y1="391.3" x2="340.6" y2="391.3" stroke="#ff0000" stroke-width="3.5" stroke-dasharray="19.4 8.8 5.8 8.3"/>
<line x1="458" y1="391.3" x2="509.5" y2="391.3" stroke="#0000ff" stroke-width="5.5" stroke-dasharray="1.6 3.05"/>
</g>
<g font-size="24.7" fill="#000" stroke="#000" stroke-width="0.15">
<text x="361" y="334">SO+NO</text>
<text x="354.5" y="399.5">SO+IO</text>
<text transform="translate(542.0,334.0) scale(1.12,1)" font-style="italic" stroke="none">ϵ</text>
<text x="553.8" y="338.3" font-style="italic" font-size="17.5" stroke="none">μτ</text>
<text x="570.6" y="334.0">+NO</text>
<text transform="translate(523.5,399.5) scale(1.12,1)" font-style="italic" stroke="none">ϵ</text>
<text x="535.3" y="403.8" font-style="italic" font-size="17.5" stroke="none">μτ</text>
<text x="552.1" y="399.5">+IO</text>
</g>
</svg></body></html>
